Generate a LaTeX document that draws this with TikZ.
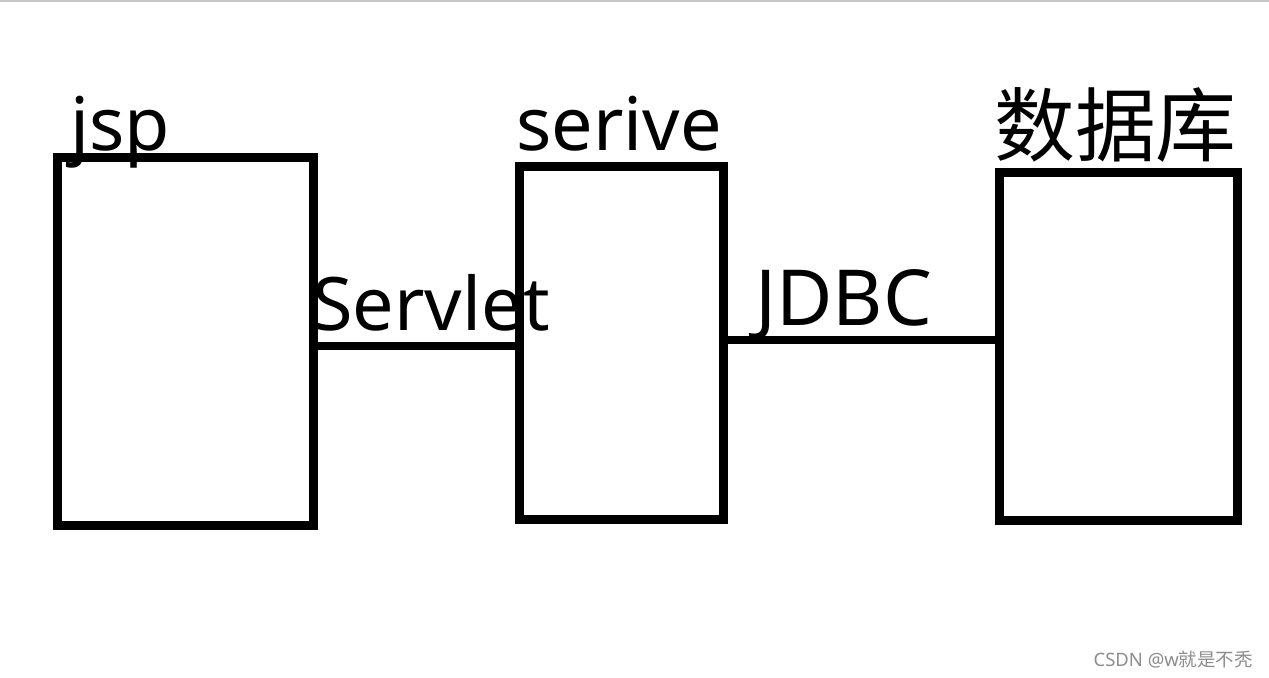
\documentclass[tikz,border=0pt]{standalone}
\usepackage{fontspec}
\setmainfont{Noto Sans}
\newfontfamily\cjk{Noto Sans CJK SC}
\tikzset{box/.style={draw,line width=0.18cm,inner sep=0pt},
  wire/.style={line width=0.16cm},
  lbl/.style={inner sep=0pt,anchor=base west,font=\fontsize{42}{50}\selectfont}}
\begin{document}
\begin{tikzpicture}[x=0.02cm,y=-0.02cm]
   \useasboundingbox (0,0) rectangle (1269,677);
   \draw[black!22,line width=0.04cm] (0,0.5) -- (1269,0.5);
   % boxes
   \node[box,minimum width=5.14cm,minimum height=7.38cm] (jsp) at (185.5,341.5) {};
    \node[box,minimum width=4.1cm,minimum height=7.08cm] (serive) at (621.5,343) {};
     \node[box,minimum width=4.78cm,minimum height=6.98cm] (db) at (1118.5,346.5) {};
   \node[lbl] (jsplbl) at (70,150) {jsp};
    \node[lbl] (serivelbl) at (516,150) {serive};
     \node[lbl,font=\cjk\fontsize{46}{52}\selectfont] (dblbl) at (994,155) {数据库};
   % links
   \draw[wire] (jsp.east |- 0,346) -- (serive.west |- 0,346);
    \draw[wire] (serive.east |- 0,340) -- (db.west |- 0,340);
   \node[lbl] (servlet) at (312,330) {Servlet};
    \node[lbl,font=\fontsize{44}{50}\selectfont] (jdbc) at (755,325) {JDBC};
   \node[anchor=base east,inner sep=0pt,text=black!45,font=\fontsize{10.5}{12}\selectfont] (mark) at (1253,666) {CSDN @w\cjk 就是不秃};
\end{tikzpicture}
\end{document}
